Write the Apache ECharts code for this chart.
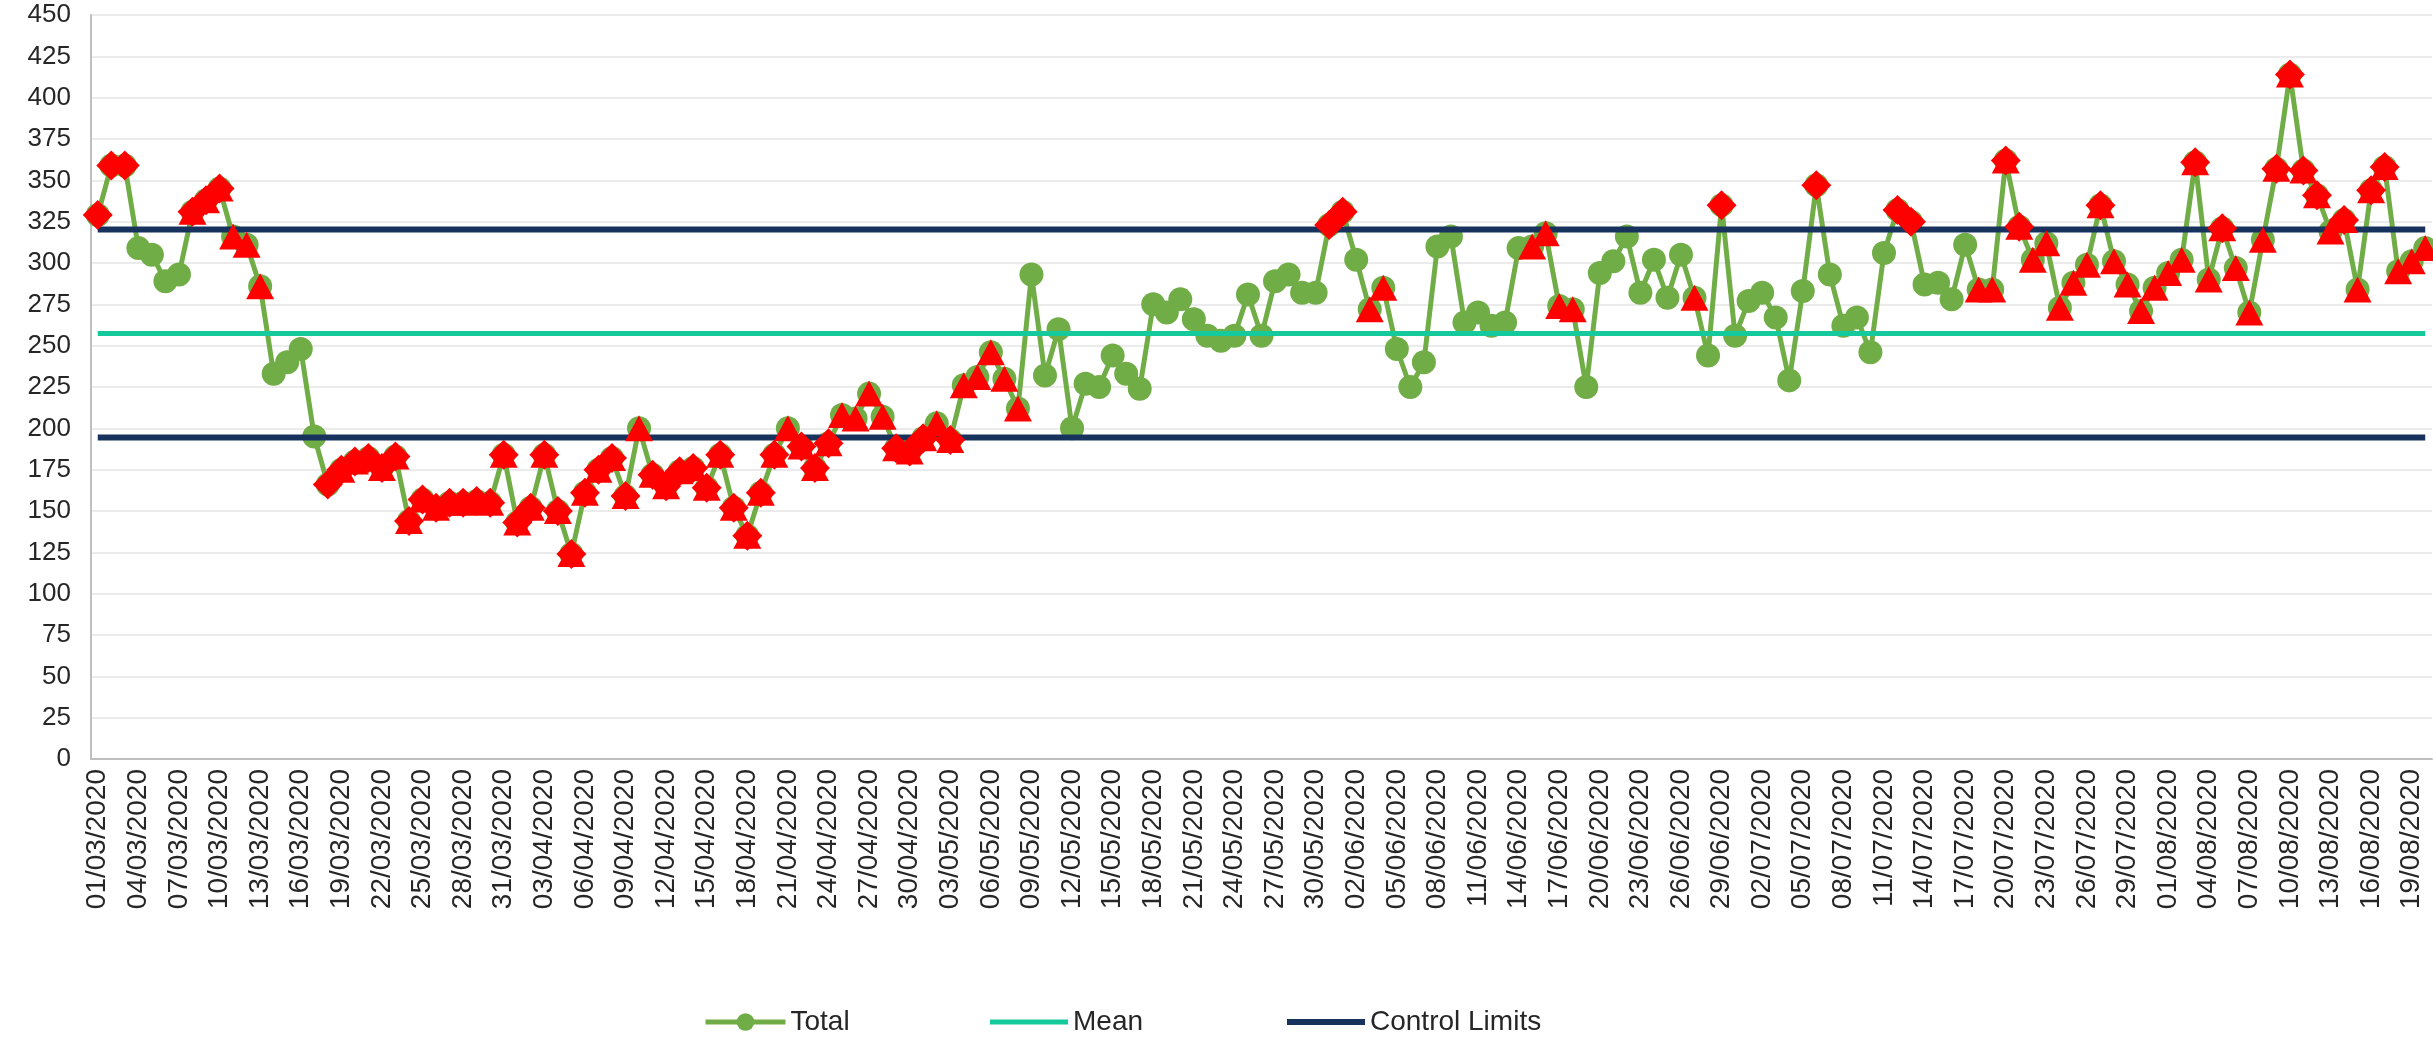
<!DOCTYPE html>
<html>
<head>
<meta charset="utf-8">
<script src="https://cdn.jsdelivr.net/npm/echarts@6/dist/echarts.min.js"></script>
<style>
  html, body { margin: 0; padding: 0; background: #fff; }
  #chart { width: 2433px; height: 1038px; }
</style>
</head>
<body>
<div id="chart"></div>
<script>
// daily totals, one array per month (01/03/2020 - 20/08/2020)
var marchTotals = [329, 359, 359, 309, 305, 289, 293, 331, 338, 345, 316, 311, 286, 233, 240, 248,
  195, 166, 175, 180, 182, 176, 183, 144, 157, 152, 155, 155, 156, 155, 184];
var aprilTotals = [143, 152, 184, 150, 124, 161, 175, 182, 159, 200, 172, 165, 174, 176, 164, 184,
  152, 135, 161, 184, 200, 189, 176, 191, 208, 206, 221, 207, 188, 186];
var mayTotals = [194, 203, 193, 226, 231, 246, 230, 212, 293, 232, 260, 200, 227, 225, 244, 233,
  224, 275, 270, 278, 266, 256, 253, 256, 281, 256, 289, 293, 282, 282, 323];
var juneTotals = [331, 302, 272, 285, 248, 225, 240, 310, 316, 264, 270, 262, 264, 309, 310, 318,
  274, 272, 225, 294, 301, 316, 282, 302, 279, 305, 279, 244, 335, 256];
var julyTotals = [277, 282, 267, 229, 283, 347, 293, 262, 267, 246, 306, 332, 325, 287, 288, 278,
  311, 284, 284, 362, 322, 302, 312, 273, 288, 299, 335, 301, 287, 271, 285];
var augustTotals = [294, 302, 361, 290, 321, 297, 270, 314, 357, 414, 356, 341, 319, 326, 284, 344,
  358, 295, 301, 309];

// centre line and control limits
var meanValue = 257.3;
var upperLimit = 320.2;
var lowerLimit = 194.5;

// stretches of days flagged by a run rule (red triangles), as [first, last] day index
var runFlagRanges = [[7, 12], [18, 68], [94, 95], [106, 109], [118, 118], [139, 172]];

var yTicks = { min: 0, max: 450, step: 25 };

var totals = [].concat(marchTotals, aprilTotals, mayTotals, juneTotals, julyTotals, augustTotals);

function pad(v) { return (v < 10 ? '0' : '') + v; }
var dates = [];
for (var i = 0; i < totals.length; i++) {
  var d = new Date(2020, 2, 1 + i);
  dates.push(pad(d.getDate()) + '/' + pad(d.getMonth() + 1) + '/' + d.getFullYear());
}

// red diamonds: points outside the control limits
var outsideData = totals.map(function (v) {
  return (v > upperLimit || v < lowerLimit) ? v : '-';
});
// red triangles: points in a flagged run
var runData = totals.map(function (v, idx) {
  var hit = runFlagRanges.some(function (r) { return idx >= r[0] && idx <= r[1]; });
  return hit ? v : '-';
});

var font = 'Liberation Sans';
var green = '#70AD47';
var teal = '#14C99B';
var navy = '#17325C';
var chart = echarts.init(document.getElementById('chart'));

var legendText = { fontSize: 28, color: '#262626', fontFamily: font };

var option = {
  animation: false,
  backgroundColor: '#ffffff',
  grid: { left: 91, right: 1, top: 15, bottom: 279 },
  legend: [
    {
      data: ['Total'], left: 698, top: 1003, itemWidth: 80, itemHeight: 22, itemGap: 6,
      lineStyle: { width: 5, color: green },
      textStyle: legendText
    },
    {
      data: [{ name: 'Mean', icon: 'rect' }], left: 985, top: 1003, itemWidth: 78, itemHeight: 5,
      itemStyle: { color: teal },
      textStyle: legendText
    },
    {
      data: [{ name: 'Control Limits', icon: 'rect' }], left: 1282, top: 1003, itemWidth: 78, itemHeight: 6,
      itemStyle: { color: navy },
      textStyle: legendText
    }
  ],
  xAxis: {
    type: 'category',
    data: dates,
    boundaryGap: true,
    axisLine: { lineStyle: { color: '#BFBFBF', width: 2 } },
    axisTick: { show: false },
    axisLabel: {
      interval: 2,
      rotate: 90,
      fontSize: 28,
      color: '#262626',
      fontFamily: font,
      margin: 10
    }
  },
  yAxis: {
    type: 'value',
    min: yTicks.min,
    max: yTicks.max,
    interval: yTicks.step,
    axisLine: { show: true, lineStyle: { color: '#BFBFBF', width: 2 } },
    axisTick: { show: false },
    splitLine: { lineStyle: { color: '#EBEBEB', width: 2 } },
    axisLabel: { fontSize: 26, color: '#262626', fontFamily: font, margin: 20 }
  },
  series: [
    {
      name: 'Total',
      type: 'line',
      data: totals,
      symbol: 'circle',
      symbolSize: 24,
      showSymbol: true,
      showAllSymbol: true,
      lineStyle: { color: green, width: 5 },
      itemStyle: { color: green },
      z: 2
    },
    {
      name: 'Mean',
      type: 'line',
      data: totals.map(function () { return meanValue; }),
      symbol: 'none',
      lineStyle: { color: teal, width: 5 },
      itemStyle: { color: teal },
      z: 3
    },
    {
      name: 'Control Limits',
      type: 'line',
      data: totals.map(function () { return upperLimit; }),
      symbol: 'none',
      lineStyle: { color: navy, width: 6 },
      itemStyle: { color: navy },
      z: 3
    },
    {
      name: 'Control Limits',
      type: 'line',
      data: totals.map(function () { return lowerLimit; }),
      symbol: 'none',
      lineStyle: { color: navy, width: 6 },
      itemStyle: { color: navy },
      z: 3
    },
    {
      name: 'Outside limits',
      type: 'scatter',
      data: outsideData,
      symbol: 'diamond',
      symbolSize: 30,
      itemStyle: { color: '#FF0000', opacity: 1 },
      z: 4
    },
    {
      name: 'Run rule',
      type: 'scatter',
      data: runData,
      symbol: 'triangle',
      symbolSize: [28, 26],
      itemStyle: { color: '#FF0000', opacity: 1 },
      z: 5
    }
  ]
};

chart.setOption(option);
</script>
</body>
</html>
